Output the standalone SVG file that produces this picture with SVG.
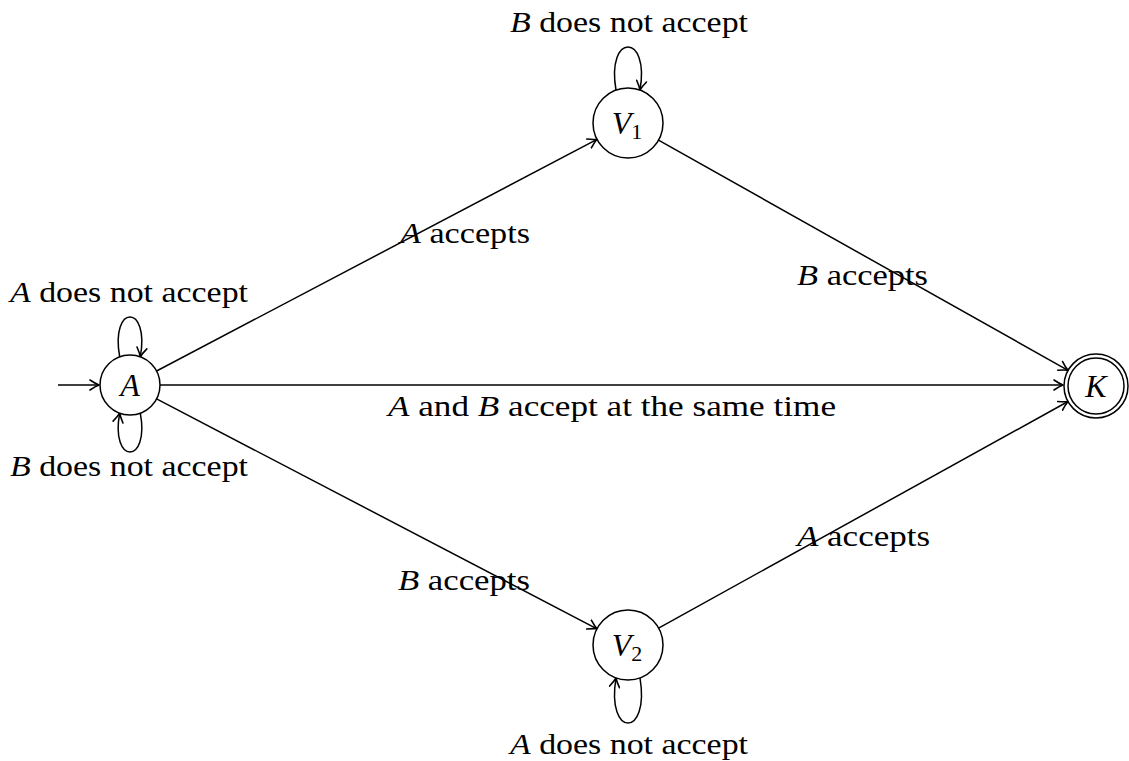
<svg xmlns="http://www.w3.org/2000/svg" width="1129" height="761" viewBox="0 0 1129 761">
<style>
.st{fill:#fff;stroke:#000;stroke-width:1.5}
.e{fill:none;stroke:#000;stroke-width:1.5}
.t{font-family:"Liberation Serif",serif;font-size:30px;fill:#000}
.i{font-style:italic}
.n{font-family:"Liberation Serif",serif;font-size:32px;fill:#000;text-anchor:middle}
.sub{font-style:normal;font-size:22px}
</style>
<defs>
<marker id="ar" viewBox="-10 -6 12 12" refX="0" refY="0" markerWidth="12" markerHeight="12" markerUnits="userSpaceOnUse" orient="auto">
<path d="M-9,-5 Q-3.5,-1.3 0,0 Q-3.5,1.3 -9,5" fill="none" stroke="#000" stroke-width="1.6" stroke-linecap="round" stroke-linejoin="round"/>
</marker>
</defs>
<g id="connectors">
<path class="e" d="M58,385 L99,385" marker-end="url(#ar)"/>
<path class="e" d="M119.7,356.8 C110,303.7 150,303.7 140.3,356.8" marker-end="url(#ar)"/>
<path class="e" d="M140.3,413.2 C150,465 110,465 119.7,413.2" marker-end="url(#ar)"/>
<path class="e" d="M616,90 C606,32.7 650,32.7 640,90" marker-end="url(#ar)"/>
<path class="e" d="M640,678 C650,738 606,738 616,678" marker-end="url(#ar)"/>
<path class="e" d="M156.6,371 L597,139.3" marker-end="url(#ar)"/>
<path class="e" d="M160,385 L1063,385" marker-end="url(#ar)"/>
<path class="e" d="M156.6,398.9 L597,628.8" marker-end="url(#ar)"/>
<path class="e" d="M658.5,140.2 L1068,370.3" marker-end="url(#ar)"/>
<path class="e" d="M658.6,628.1 L1068,401.5" marker-end="url(#ar)"/>
</g>
<g id="labels">
<text class="t" x="10" y="302" textLength="238" lengthAdjust="spacingAndGlyphs"><tspan class="i">A</tspan> does not accept</text>
<text class="t" x="10" y="476" textLength="238" lengthAdjust="spacingAndGlyphs"><tspan class="i">B</tspan> does not accept</text>
<text class="t" x="510" y="32" textLength="238" lengthAdjust="spacingAndGlyphs"><tspan class="i">B</tspan> does not accept</text>
<text class="t" x="510" y="754" textLength="238" lengthAdjust="spacingAndGlyphs"><tspan class="i">A</tspan> does not accept</text>
<text class="t" x="400" y="243" textLength="130" lengthAdjust="spacingAndGlyphs"><tspan class="i">A</tspan> accepts</text>
<text class="t" x="797" y="285" textLength="131" lengthAdjust="spacingAndGlyphs"><tspan class="i">B</tspan> accepts</text>
<text class="t" x="388" y="416" textLength="448" lengthAdjust="spacingAndGlyphs"><tspan class="i">A</tspan> and <tspan class="i">B</tspan> accept at the same time</text>
<text class="t" x="398" y="590" textLength="132" lengthAdjust="spacingAndGlyphs"><tspan class="i">B</tspan> accepts</text>
<text class="t" x="797" y="546" textLength="133" lengthAdjust="spacingAndGlyphs"><tspan class="i">A</tspan> accepts</text>
</g>
<g id="node-A">
<circle class="st" cx="130" cy="385" r="30"/>
<text class="n i" x="130" y="396">A</text>
</g>
<g id="node-V1">
<circle class="st" cx="628" cy="123" r="35"/>
<text class="n" x="627" y="134"><tspan class="i">V</tspan><tspan class="sub" dy="5">1</tspan></text>
</g>
<g id="node-V2">
<circle class="st" cx="628" cy="645" r="35"/>
<text class="n" x="627" y="656"><tspan class="i">V</tspan><tspan class="sub" dy="5">2</tspan></text>
</g>
<g id="node-K">
<circle class="st" cx="1096" cy="386" r="32"/>
<circle class="st" cx="1096" cy="386" r="28"/>
<text class="n i" x="1096" y="397">K</text>
</g>
</svg>
